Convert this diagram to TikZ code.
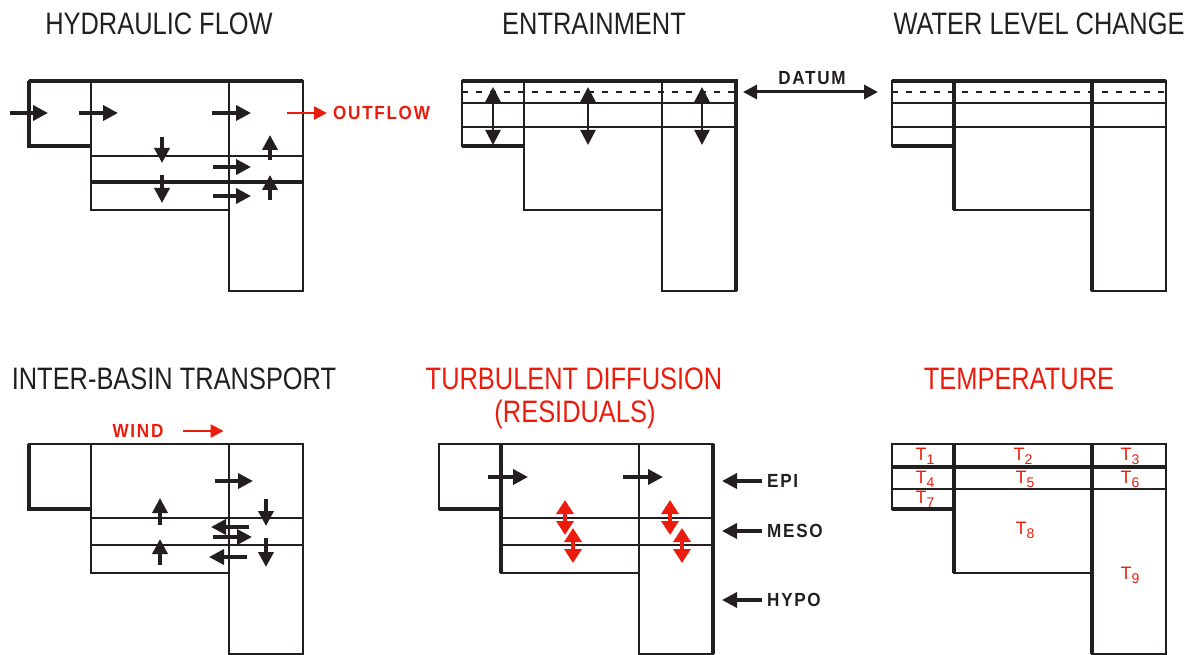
\documentclass[tikz,border=0pt]{standalone}
\usepackage{fontspec}
\usepackage{tikz}
\usetikzlibrary{arrows.meta,positioning}
\setmainfont{Liberation Sans}
\newfontfamily\titlefont[FakeStretch=0.82]{Liberation Sans}
\newfontfamily\tagfont[FakeStretch=0.9,LetterSpace=9]{Liberation Sans}
\definecolor{BasinInk}{HTML}{231F20}
\definecolor{BasinRed}{HTML}{EB1C0C}
\newcommand{\tsub}[1]{T\raisebox{-4pt}{\fontsize{14}{14}\selectfont#1}}

\begin{document}
\begin{tikzpicture}[x=1pt,y=-1pt,
  wall/.style={BasinInk,line width=2.2pt},
  heavy/.style={BasinInk,line width=3.8pt},
  datumline/.style={BasinInk,line width=2.5pt,dash pattern=on 6pt off 8pt},
  flow/.style={BasinInk,line width=3.6pt,-{Triangle[length=15pt,width=15pt]}},
  redflow/.style={BasinRed,line width=2.4pt,-{Triangle[length=13pt,width=13pt]}},
  mix/.style={BasinInk,line width=2.4pt,{Triangle[length=15pt,width=15pt]}-{Triangle[length=15pt,width=15pt]}},
  datumarrow/.style={BasinInk,line width=3pt,{Triangle[length=14pt,width=14pt]}-{Triangle[length=14pt,width=14pt]}},
  eddy/.style={BasinRed,line width=3.4pt,{Triangle[length=14pt,width=17pt]}-{Triangle[length=14pt,width=17pt]}},
  title/.style={font=\titlefont\fontsize{31}{31}\selectfont,BasinInk,inner sep=0pt},
  redtitle/.style={title,BasinRed},
  tag/.style={font=\tagfont\bfseries\fontsize{19}{19}\selectfont,BasinInk,inner sep=0pt},
  temp/.style={font=\fontsize{18}{18}\selectfont,BasinRed,inner sep=0pt},
  basin/.pic={
    \draw[wall] (0,0) -- (274,0) -- (274,210) -- (200,210) -- (200,129) -- (62,129) -- (62,65) -- (0,65) -- cycle;
    \draw[wall] (62,0) -- (62,129) (200,0) -- (200,210);
  }]
  \useasboundingbox (0,0) rectangle (1193,655);

  % titles
  \node[title] (hydtitle) at (159,24) {HYDRAULIC FLOW};
  \node[title] (enttitle) at (594,24) {ENTRAINMENT};
  \node[title] (wlctitle) at (1039,24) {WATER LEVEL CHANGE};
  \node[title] (ibttitle) at (174,379) {INTER-BASIN TRANSPORT};
  \node[redtitle] (turbtitle) at (574,379) {TURBULENT DIFFUSION};
  \node[redtitle] (residtitle) at (575,414) {(RESIDUALS)};
  \node[redtitle] (temptitle) at (1019,379) {TEMPERATURE};

  % hydraulic flow
  \pic at (29,81) {basin};
  \draw[wall] (91,156) -- (303,156);
  \draw[heavy] (91,182) -- (303,182);
  \draw[heavy] (29,81) -- (303,81);
  \draw[heavy] (29,81) -- (29,146) -- (91,146);
  \foreach \a/\b in {{(10,113)}/{(48,113)},{(79,113)}/{(118,113)},{(212,113)}/{(251,113)},
    {(213,167)}/{(251,167)},{(213,196)}/{(251,196)},
    {(162,137)}/{(162,163)},{(162,175)}/{(162,203)},
    {(270,160)}/{(270,135)},{(270,200)}/{(270,175)}}
    \draw[flow] \a -- \b;
  \node[tag,BasinRed,anchor=west] (outflow) at (333,113) {OUTFLOW};
  \draw[redflow] ([xshift=-46pt]outflow.west) -- ([xshift=-6pt]outflow.west);

  % entrainment
  \pic at (462,81) {basin};
  \draw[datumline] (462,92) -- (736,92);
  \draw[wall] (462,103) -- (736,103);
  \draw[wall] (462,127) -- (736,127);
  \draw[heavy] (462,81) -- (736,81) -- (736,291);
  \draw[heavy] (462,146) -- (524,146);
  \foreach \x in {493,588,702}
    \draw[mix] (\x,87) -- (\x,145);

  % datum
  \node[tag] (datum) at (812,78) {DATUM};
  \coordinate (datuml) at (743,92);
  \coordinate (datumr) at (878,92);
  \draw[datumarrow] (datuml) -- (datumr);

  % water level change
  \pic at (892,81) {basin};
  \draw[datumline] (892,92) -- (1166,92);
  \draw[wall] (892,103) -- (1166,103);
  \draw[wall] (892,127) -- (1166,127);
  \draw[heavy] (892,81) -- (1166,81);
  \draw[heavy] (892,146) -- (954,146);
  \draw[heavy] (954,81) -- (954,210);
  \draw[heavy] (1092,81) -- (1092,291);

  % inter-basin transport
  \pic at (29,444) {basin};
  \draw[wall] (91,518) -- (303,518);
  \draw[wall] (91,545) -- (303,545);
  \draw[heavy] (29,444) -- (29,509) -- (91,509);
  \node[tag,BasinRed] (wind) at (138,431) {WIND};
  \draw[redflow] ([xshift=19pt]wind.east) -- ([xshift=60pt]wind.east);
  \foreach \a/\b in {{(215,481)}/{(253,481)},
    {(160,525)}/{(160,498)},{(160,565)}/{(160,539)},
    {(266,499)}/{(266,526)},{(266,538)}/{(266,567)},
    {(249,527)}/{(211,527)},{(213,537)}/{(252,537)},{(247,557)}/{(209,557)}}
    \draw[flow] \a -- \b;

  % turbulent diffusion
  \pic at (439,444) {basin};
  \draw[wall] (501,518) -- (713,518);
  \draw[wall] (501,545) -- (713,545);
  \draw[heavy] (439,509) -- (501,509);
  \draw[heavy] (501,444) -- (501,573);
  \draw[heavy] (713,444) -- (713,654);
  \draw[flow] (488,477) -- (528,477);
  \draw[flow] (623,477) -- (663,477);
  \foreach \x/\y in {565/500,573/528,670/500,682/528}
    \draw[eddy] (\x,\y) -- (\x,\y+35);
  \node[tag,anchor=west] (epi) at (767,481) {EPI};
  \node[tag,anchor=west] (meso) at (767,531) {MESO};
  \node[tag,anchor=west] (hypo) at (767,600) {HYPO};
  \foreach \lay in {epi,meso,hypo}
    \draw[flow,shorten <=5pt] (\lay.west) -- ++(-45,0);

  % temperature
  \pic at (892,444) {basin};
  \draw[heavy] (892,467) -- (1166,467);
  \draw[wall] (892,489) -- (1166,489);
  \draw[heavy] (892,509) -- (954,509);
  \draw[heavy] (954,444) -- (954,573);
  \draw[heavy] (1092,444) -- (1092,654);
  \foreach \n/\p in {1/{(925,456)},2/{(1023,456)},3/{(1130,456)},
    4/{(925,479)},5/{(1025,479)},6/{(1130,479)},
    7/{(925,499)},8/{(1025,530)},9/{(1130,575)}}
    \node[temp] (t\n) at \p {\tsub{\n}};
\end{tikzpicture}
\end{document}
